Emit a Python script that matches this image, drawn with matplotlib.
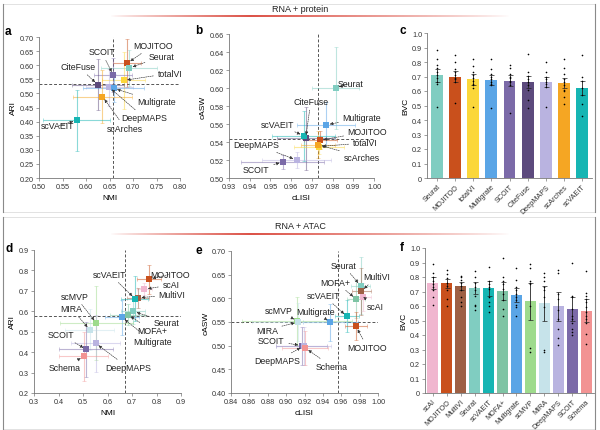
import numpy as np
import matplotlib
matplotlib.use("Agg")
import matplotlib.pyplot as plt

plt.rcParams['font.family'] = ['Liberation Sans', 'DejaVu Sans']

# method colours (shared by all panels)
colors = {
    'Seurat': '#80cdc1', 'MOJITOO': '#c9501c', 'totalVI': '#fbd73a',
    'Multigrate': '#5aa5e6', 'SCOIT': '#7b6aa8', 'CiteFuse': '#5c4a7d',
    'DeepMAPS': '#b9b3e0', 'scArches': '#f5a623', 'scVAEIT': '#16b5b3',
    'scAI': '#f0b6cf', 'MultiVI': '#9e6044', 'MOFA+': '#7ec4a4',
    'scMVP': '#9edb8c', 'MIRA': '#c6e3ea', 'Schema': '#f29393',
}

# ---- a: RNA + protein, NMI vs ARI
methods_a = ['MOJITOO', 'Seurat', 'totalVI', 'SCOIT', 'CiteFuse', 'DeepMAPS', 'Multigrate', 'scArches', 'scVAEIT']
nmi_a = [0.688, 0.692, 0.680, 0.658, 0.625, 0.649, 0.659, 0.635, 0.580]
ari_a = [0.607, 0.590, 0.546, 0.565, 0.531, 0.522, 0.518, 0.489, 0.404]
nmi_err_a = [0.030, 0.060, 0.045, 0.040, 0.055, 0.050, 0.065, 0.062, 0.071]
ari_err_a = [0.085, 0.065, 0.100, 0.060, 0.090, 0.065, 0.050, 0.093, 0.107]
mean_nmi_a, mean_ari_a = 0.658, 0.533

# ---- b: RNA + protein, cLISI vs cASW
methods_b = ['Seurat', 'Multigrate', 'CiteFuse', 'scVAEIT', 'MOJITOO', 'totalVI', 'scArches', 'DeepMAPS', 'SCOIT']
clisi_b = [0.9815, 0.977, 0.967, 0.966, 0.974, 0.9735, 0.973, 0.9626, 0.956]
casw_b = [0.600, 0.559, 0.544, 0.547, 0.542, 0.535, 0.537, 0.520, 0.518]
clisi_err_b = [0.0113, 0.014, 0.014, 0.015, 0.008, 0.012, 0.008, 0.0165, 0.020]
casw_err_b = [0.046, 0.025, 0.035, 0.028, 0.010, 0.008, 0.015, 0.009, 0.008]
mean_clisi_b, mean_casw_b = 0.973, 0.543

# ---- c: RNA + protein, BVC bars
methods_c = ['Seurat', 'MOJITOO', 'totalVI', 'Multigrate', 'SCOIT', 'CiteFuse', 'DeepMAPS', 'scArches', 'scVAEIT']
bvc_c = [0.710, 0.700, 0.680, 0.677, 0.672, 0.664, 0.660, 0.653, 0.621]
bvc_err_c = [0.045, 0.035, 0.040, 0.035, 0.035, 0.040, 0.035, 0.035, 0.050]
dots_c = [
    [0.88, 0.82, 0.78, 0.76, 0.73, 0.71, 0.69, 0.66, 0.65, 0.49],
    [0.85, 0.80, 0.75, 0.73, 0.71, 0.69, 0.68, 0.66, 0.52],
    [0.82, 0.77, 0.73, 0.71, 0.69, 0.67, 0.65, 0.64, 0.62, 0.49],
    [0.82, 0.75, 0.72, 0.70, 0.68, 0.66, 0.65, 0.64, 0.48],
    [0.78, 0.76, 0.72, 0.70, 0.69, 0.67, 0.66, 0.64, 0.45],
    [0.855, 0.73, 0.705, 0.68, 0.66, 0.64, 0.61, 0.54, 0.48],
    [0.80, 0.73, 0.70, 0.68, 0.66, 0.65, 0.63, 0.49],
    [0.82, 0.76, 0.72, 0.68, 0.66, 0.64, 0.61, 0.60, 0.56, 0.51],
    [0.845, 0.70, 0.67, 0.62, 0.57, 0.51, 0.43],
]

# ---- d: RNA + ATAC, NMI vs ARI
methods_d = ['MOJITOO', 'scAI', 'MultiVI', 'scVAEIT', 'Seurat', 'MOFA+', 'Multigrate', 'scMVP', 'MIRA', 'DeepMAPS', 'SCOIT', 'Schema']
nmi_d = [0.769, 0.751, 0.724, 0.712, 0.705, 0.682, 0.659, 0.555, 0.528, 0.552, 0.514, 0.503]
ari_d = [0.757, 0.708, 0.666, 0.662, 0.600, 0.584, 0.570, 0.542, 0.509, 0.443, 0.413, 0.379]
nmi_err_d = [0.050, 0.030, 0.045, 0.055, 0.050, 0.070, 0.070, 0.150, 0.100, 0.100, 0.110, 0.100]
ari_err_d = [0.070, 0.030, 0.050, 0.110, 0.060, 0.050, 0.085, 0.180, 0.100, 0.140, 0.135, 0.120]
mean_nmi_d, mean_ari_d = 0.671, 0.576

# ---- e: RNA + ATAC, cLISI vs cASW
methods_e = ['Seurat', 'MultiVI', 'scAI', 'MOFA+', 'scVAEIT', 'MOJITOO', 'Multigrate', 'scMVP', 'MIRA', 'SCOIT', 'DeepMAPS', 'Schema']
clisi_e = [0.981, 0.982, 0.984, 0.976, 0.966, 0.976, 0.948, 0.912, 0.913, 0.917, 0.919, 0.921]
casw_e = [0.627, 0.615, 0.603, 0.599, 0.562, 0.541, 0.549, 0.552, 0.550, 0.500, 0.499, 0.495]
clisi_err_e = [0.010, 0.010, 0.008, 0.010, 0.013, 0.012, 0.030, 0.060, 0.050, 0.028, 0.030, 0.025]
casw_err_e = [0.060, 0.050, 0.030, 0.040, 0.034, 0.030, 0.040, 0.050, 0.040, 0.040, 0.040, 0.035]
mean_clisi_e, mean_casw_e = 0.957, 0.551

# ---- f: RNA + ATAC, BVC bars
methods_f = ['scAI', 'MOJITOO', 'MultiVI', 'Seurat', 'scVAEIT', 'MOFA+', 'Multigrate', 'scMVP', 'MIRA', 'DeepMAPS', 'SCOIT', 'Schema']
bvc_f = [0.757, 0.757, 0.738, 0.724, 0.722, 0.703, 0.676, 0.632, 0.619, 0.598, 0.579, 0.568]
bvc_err_f = [0.040, 0.030, 0.030, 0.040, 0.050, 0.060, 0.045, 0.130, 0.120, 0.100, 0.085, 0.080]
dots_f = [
    [0.89, 0.83, 0.80, 0.77, 0.75, 0.73, 0.71, 0.66, 0.61],
    [0.85, 0.82, 0.79, 0.76, 0.74, 0.71, 0.65, 0.60],
    [0.81, 0.80, 0.78, 0.76, 0.74, 0.71, 0.66, 0.63, 0.60],
    [0.84, 0.80, 0.76, 0.73, 0.71, 0.67, 0.61, 0.60, 0.57],
    [0.87, 0.77, 0.75, 0.73, 0.72, 0.66, 0.63, 0.60, 0.56],
    [0.93, 0.80, 0.77, 0.75, 0.72, 0.68, 0.64, 0.58, 0.53],
    [0.86, 0.78, 0.73, 0.71, 0.68, 0.66, 0.64, 0.61, 0.59, 0.53],
    [0.89, 0.86, 0.77, 0.76, 0.75, 0.60, 0.31, 0.28],
    [0.83, 0.80, 0.77, 0.73, 0.71, 0.66, 0.59, 0.30, 0.28],
    [0.85, 0.83, 0.68, 0.65, 0.57, 0.51, 0.44, 0.38, 0.33],
    [0.90, 0.67, 0.66, 0.58, 0.53, 0.51, 0.48, 0.44, 0.42, 0.40],
    [0.84, 0.69, 0.67, 0.65, 0.63, 0.59, 0.56, 0.53, 0.51, 0.48, 0.41, 0.34],
]

# label placements (text x, text y, alignment)
labels_a = {
    'MOJITOO': (0.700, 0.670, 'left'), 'Seurat': (0.734, 0.631, 'left'),
    'totalVI': (0.752, 0.571, 'left'), 'SCOIT': (0.633, 0.647, 'center'),
    'CiteFuse': (0.584, 0.595, 'center'), 'DeepMAPS': (0.676, 0.413, 'left'),
    'Multigrate': (0.708, 0.471, 'left'), 'scArches': (0.645, 0.377, 'left'),
    'scVAEIT': (0.576, 0.385, 'right'),
}
labels_b = {
    'Seurat': (0.9824, 0.605, 'left'), 'CiteFuse': (0.9695, 0.585, 'center'),
    'Multigrate': (0.9848, 0.567, 'left'), 'scVAEIT': (0.9613, 0.560, 'right'),
    'MOJITOO': (0.9873, 0.5515, 'left'), 'totalVI': (0.9897, 0.539, 'left'),
    'DeepMAPS': (0.9432, 0.537, 'center'), 'scArches': (0.9852, 0.5233, 'left'),
    'SCOIT': (0.9432, 0.509, 'center'),
}
labels_d = {
    'MOJITOO': (0.773, 0.781, 'left'), 'scVAEIT': (0.610, 0.781, 'center'),
    'scAI': (0.824, 0.729, 'left'), 'MultiVI': (0.809, 0.680, 'left'),
    'scMVP': (0.468, 0.674, 'center'), 'MIRA': (0.453, 0.613, 'center'),
    'Seurat': (0.787, 0.547, 'left'), 'MOFA+': (0.721, 0.506, 'left'),
    'SCOIT': (0.412, 0.485, 'center'), 'Multigrate': (0.705, 0.451, 'left'),
    'DeepMAPS': (0.590, 0.325, 'left'), 'Schema': (0.425, 0.324, 'center'),
}
labels_e = {
    'Seurat': (0.948, 0.670, 'left'), 'MultiVI': (0.984, 0.646, 'left'),
    'MOFA+': (0.954, 0.634, 'center'), 'scVAEIT': (0.941, 0.606, 'center'),
    'scAI': (0.988, 0.583, 'left'), 'scMVP': (0.892, 0.574, 'center'),
    'Multigrate': (0.932, 0.572, 'center'), 'MIRA': (0.879, 0.533, 'center'),
    'SCOIT': (0.884, 0.511, 'center'), 'MOJITOO': (0.967, 0.496, 'left'),
    'DeepMAPS': (0.890, 0.468, 'center'), 'Schema': (0.932, 0.456, 'left'),
}

W, H = 600, 431
fig = plt.figure(figsize=(6, 4.31), dpi=100)
fig.patch.set_facecolor('white')


def px_box(l, t, r, b):
    return [l / W, 1 - b / H, (r - l) / W, (b - t) / H]


def style(ax):
    for s in ['top', 'right']:
        ax.spines[s].set_visible(False)
    for s in ['left', 'bottom']:
        ax.spines[s].set_color('#777777')
        ax.spines[s].set_linewidth(0.6)
    ax.tick_params(length=2, width=0.5, color='#777777', labelsize=5.2, labelcolor='#333333', pad=1.5)


def scatter_panel(ax, methods, xs, ys, xerr, yerr, xm, ym, labels):
    ax.axvline(xm, color='#555555', ls=(0, (3, 2)), lw=0.7, zorder=1)
    ax.axhline(ym, color='#555555', ls=(0, (3, 2)), lw=0.7, zorder=1)
    for m, x, y, ex, ey in zip(methods, xs, ys, xerr, yerr):
        c = colors[m]
        ax.errorbar(x, y, xerr=ex, yerr=ey, fmt='none', ecolor=c, alpha=0.5,
                    elinewidth=0.8, capsize=1.3, capthick=0.5, zorder=2)
    for m, x, y in zip(methods, xs, ys):
        ax.scatter(x, y, s=14, marker='s', color=colors[m], zorder=4, linewidths=0)
    for m, x, y in zip(methods, xs, ys):
        tx, ty, ha = labels[m]
        ax.annotate(m, xy=(x, y), xytext=(tx, ty), ha=ha, va='center', fontsize=6.3,
                    color='#222222', zorder=5,
                    arrowprops=dict(arrowstyle='-|>', linestyle=(0, (2, 1.5)), lw=0.45,
                                    color='#333333', mutation_scale=4.5, shrinkA=1, shrinkB=2.5))
    style(ax)


def bar_panel(ax, methods, vals, errs, dots, width):
    x = np.arange(len(methods))
    ax.bar(x, vals, width=width, color=[colors[m] for m in methods], zorder=1)
    ax.errorbar(x, vals, yerr=errs, fmt='none', ecolor='#222222', elinewidth=0.6,
                capsize=1.8, capthick=0.5, zorder=3)
    for i, d in enumerate(dots):
        ax.scatter([i] * len(d), d, s=1.4, color='black', zorder=4, linewidths=0)
    ax.set_xticks(x)
    ax.set_xticklabels(methods, rotation=45, ha='right', rotation_mode='anchor', fontsize=6)
    ax.set_ylim(0, 1.0)
    ax.set_yticks(np.arange(0, 1.01, 0.1))
    ax.set_yticklabels(['0'] + ['%.1f' % v for v in np.arange(0.1, 1.01, 0.1)])
    ax.set_xlim(-0.55, len(methods) - 0.45)
    ax.set_ylabel('BVC', fontsize=6, labelpad=2)
    style(ax)


# ---- decoration layer (frames, headers, red rules)
deco = fig.add_axes([0, 0, 1, 1], zorder=-5)
deco.axis('off')
for top, bot in [(5, 213), (218, 430)]:
    deco.plot([3, 595], [top, top], color='#e2e2e2', lw=0.7)
    deco.plot([3, 595], [bot, bot], color='#e2e2e2', lw=0.7)
    deco.plot([3, 3], [top, bot], color='#8a8a8a', lw=0.8)
    deco.plot([595, 595], [top, bot], color='#8a8a8a', lw=0.8)
for txt, ty, ly in [('RNA + protein', 10, 17), ('RNA + ATAC', 227, 235)]:
    deco.text(300, ty, txt, ha='center', va='center', fontsize=6.5, color='#222222')
    xx = np.linspace(0, 1, 400)
    alpha = np.clip(np.where(xx < 0.35, xx / 0.35, (1 - xx) / 0.65), 0, 1) ** 0.8
    grad = np.zeros((1, 400, 4))
    grad[..., 0], grad[..., 1], grad[..., 2] = 0.85, 0.25, 0.2
    grad[..., 3] = alpha * 0.9
    deco.imshow(grad, extent=[110, 510, ly + 0.7, ly - 0.7], aspect='auto', interpolation='bilinear')
deco.set_xlim(0, W)
deco.set_ylim(H, 0)
for lab, lx, ly in [('a', 5, 32), ('b', 195, 31), ('c', 400, 31),
                    ('d', 5, 249), ('e', 196, 251), ('f', 400, 248)]:
    deco.text(lx, ly, lab, fontsize=8.5, fontweight='bold', ha='left', va='center')

# ---- panel a
ax = fig.add_axes(px_box(39, 38, 180, 179))
scatter_panel(ax, methods_a, nmi_a, ari_a, nmi_err_a, ari_err_a, mean_nmi_a, mean_ari_a, labels_a)
ax.set_xlim(0.50, 0.80)
ax.set_ylim(0.20, 0.70)
ax.set_xticks(np.arange(0.50, 0.801, 0.05))
ax.set_yticks(np.arange(0.20, 0.701, 0.05))
ax.xaxis.set_major_formatter('{x:.2f}')
ax.yaxis.set_major_formatter('{x:.2f}')
ax.set_xlabel('NMI', fontsize=6, labelpad=3)
ax.set_ylabel('ARI', fontsize=6, labelpad=2)

# ---- panel b
ax = fig.add_axes(px_box(229, 35, 374, 179))
scatter_panel(ax, methods_b, clisi_b, casw_b, clisi_err_b, casw_err_b, mean_clisi_b, mean_casw_b, labels_b)
ax.set_xlim(0.93, 1.00)
ax.set_ylim(0.50, 0.66)
ax.set_xticks(np.arange(0.93, 1.001, 0.01))
ax.set_yticks(np.arange(0.50, 0.661, 0.02))
ax.xaxis.set_major_formatter('{x:.2f}')
ax.yaxis.set_major_formatter('{x:.2f}')
ax.set_xlabel('cLISI', fontsize=6, labelpad=3)
ax.set_ylabel('cASW', fontsize=6, labelpad=2)

# ---- panel c
ax = fig.add_axes(px_box(427, 34, 592, 179))
bar_panel(ax, methods_c, bvc_c, bvc_err_c, dots_c, 0.66)

# ---- panel d
ax = fig.add_axes(px_box(34, 251, 181, 394))
scatter_panel(ax, methods_d, nmi_d, ari_d, nmi_err_d, ari_err_d, mean_nmi_d, mean_ari_d, labels_d)
ax.set_xlim(0.3, 0.9)
ax.set_ylim(0.2, 0.9)
ax.set_xticks(np.arange(0.3, 0.901, 0.1))
ax.set_yticks(np.arange(0.2, 0.901, 0.1))
ax.xaxis.set_major_formatter('{x:.1f}')
ax.yaxis.set_major_formatter('{x:.1f}')
ax.set_xlabel('NMI', fontsize=6, labelpad=3)
ax.set_ylabel('ARI', fontsize=6, labelpad=2)

# ---- panel e
ax = fig.add_axes(px_box(231, 252, 378, 394))
scatter_panel(ax, methods_e, clisi_e, casw_e, clisi_err_e, casw_err_e, mean_clisi_e, mean_casw_e, labels_e)
ax.set_xlim(0.84, 1.00)
ax.set_ylim(0.40, 0.70)
ax.set_xticks(np.arange(0.84, 1.001, 0.02))
ax.set_yticks(np.arange(0.40, 0.701, 0.05))
ax.xaxis.set_major_formatter('{x:.2f}')
ax.yaxis.set_major_formatter('{x:.2f}')
ax.set_xlabel('cLISI', fontsize=6, labelpad=3)
ax.set_ylabel('cASW', fontsize=6, labelpad=2)

# ---- panel f
ax = fig.add_axes(px_box(425, 249, 594, 394))
bar_panel(ax, methods_f, bvc_f, bvc_err_f, dots_f, 0.78)

fig.savefig('out.png', dpi=100, facecolor='white')
